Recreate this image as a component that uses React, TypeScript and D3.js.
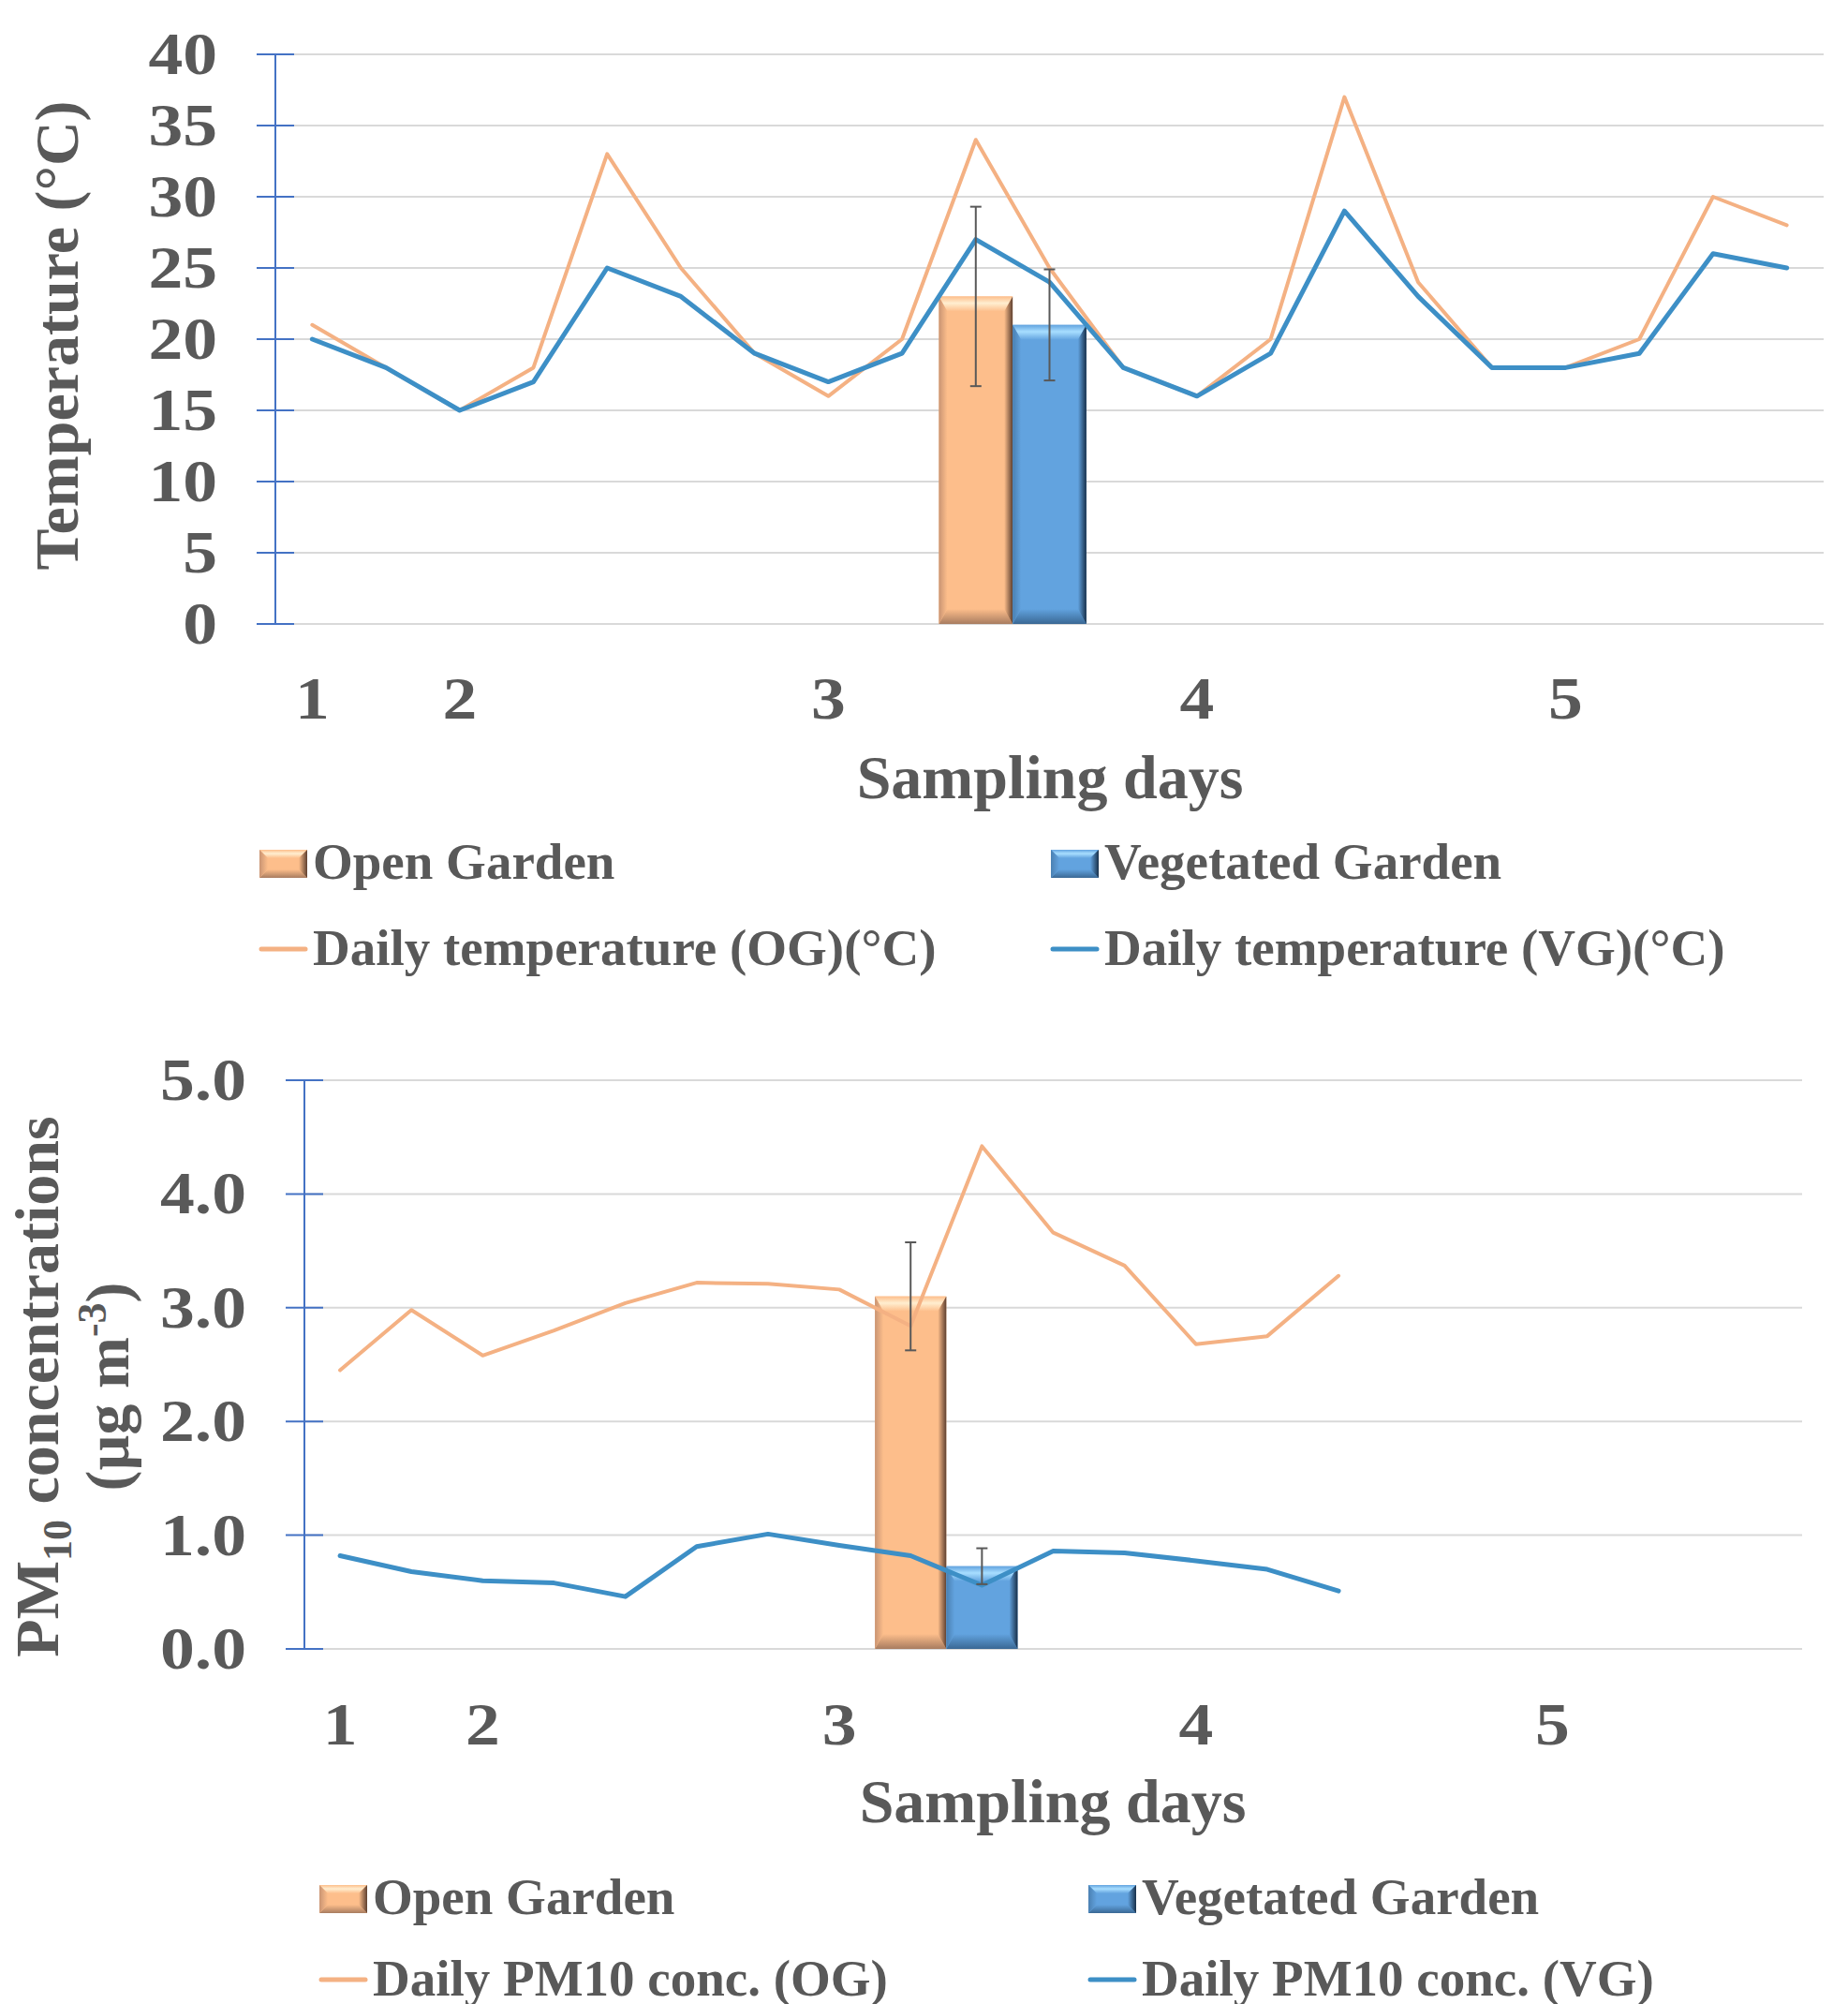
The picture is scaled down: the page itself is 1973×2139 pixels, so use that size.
import React from "react";
import * as d3 from "d3";

// 21 sampling slots on the category axis, labels only at day starts
const slotCount = 21;
const dayLabels = ["1", "2", "3", "4", "5"];
const dayLabelSlots = [0, 2, 7, 12, 17];

const tempTicks = [0, 5, 10, 15, 20, 25, 30, 35, 40];
const tempOG = [21, 18, 15, 18, 33, 25, 19, 16, 20, 34, 25, 18, 16, 20, 37, 24, 18, 18, 20, 30, 28];
const tempVG = [20, 18, 15, 17, 25, 23, 19, 17, 19, 27, 24, 18, 16, 19, 29, 23, 18, 18, 19, 26, 25];
const tempBarSlots = [9, 10];
const tempBarMeans = [23, 21];
const tempBarErr = [6.3, 3.9];

const pmTicks = [0, 1, 2, 3, 4, 5];
const pmOG = [2.45, 2.98, 2.58, 2.8, 3.04, 3.22, 3.21, 3.16, 2.84, 4.42, 3.66, 3.37, 2.68, 2.75, 3.28];
const pmVG = [0.82, 0.68, 0.6, 0.58, 0.46, 0.9, 1.01, 0.91, 0.82, 0.56, 0.86, 0.845, 0.775, 0.7, 0.51];
const pmBarSlots = [8, 9];
const pmBarMeans = [3.1, 0.727];
const pmBarErr = [0.475, 0.158];

const FONT = "'Liberation Serif', 'Times New Roman', serif";
const TXT = "#595959";
const AXIS = "#4472C4";
const GRID = "#D9D9D9";
const LINE_OG = "#F4B183";
const LINE_VG = "#3D8FC6";
const TICK_STRETCH = 1.15;

const palettes = {
  og: { main: "#FDBE8B", hi: "#FFEED0", left: "#C99473", right: "#5E4030", bottom: "#A87C60" },
  vg: { main: "#62A3DF", hi: "#A8DEFF", left: "#4A80B2", right: "#18304A", bottom: "#3A6894" },
};

function Gradients() {
  return (
    <defs>
      {Object.entries(palettes).map(([k, p]) => (
        <React.Fragment key={k}>
          <linearGradient id={`${k}-top`} x1="0" y1="0" x2="0" y2="1">
            <stop offset="0" stopColor={p.main} />
            <stop offset="0.45" stopColor={p.hi} />
            <stop offset="1" stopColor={p.main} />
          </linearGradient>
          <linearGradient id={`${k}-left`} x1="0" y1="0" x2="1" y2="0">
            <stop offset="0" stopColor={p.left} />
            <stop offset="1" stopColor={p.main} />
          </linearGradient>
          <linearGradient id={`${k}-right`} x1="0" y1="0" x2="1" y2="0">
            <stop offset="0" stopColor={p.main} />
            <stop offset="1" stopColor={p.right} />
          </linearGradient>
          <linearGradient id={`${k}-bottom`} x1="0" y1="0" x2="0" y2="1">
            <stop offset="0" stopColor={p.main} />
            <stop offset="1" stopColor={p.bottom} />
          </linearGradient>
        </React.Fragment>
      ))}
    </defs>
  );
}

function BevelBar({ x0, x1, y0, y1, kind, bt, bs }) {
  const pts = (arr) => arr.map((p) => p.join(",")).join(" ");
  const h = y1 - y0;
  const t = Math.min(bt, h / 2);
  return (
    <g>
      <rect x={x0} y={y0} width={x1 - x0} height={h} fill={palettes[kind].main} />
      <polygon points={pts([[x0, y0], [x1, y0], [x1 - bs, y0 + t], [x0 + bs, y0 + t]])} fill={`url(#${kind}-top)`} />
      <polygon points={pts([[x0, y1], [x1, y1], [x1 - bs, y1 - t], [x0 + bs, y1 - t]])} fill={`url(#${kind}-bottom)`} />
      <polygon points={pts([[x0, y0], [x0 + bs, y0 + t], [x0 + bs, y1 - t], [x0, y1]])} fill={`url(#${kind}-left)`} />
      <polygon points={pts([[x1, y0], [x1 - bs, y0 + t], [x1 - bs, y1 - t], [x1, y1]])} fill={`url(#${kind}-right)`} />
    </g>
  );
}

// tick label, slightly widened to match the chart's wide bold digits
function TickText({ x, y, anchor, children }) {
  return (
    <text
      transform={`translate(${x},${y}) scale(${TICK_STRETCH},1)`}
      textAnchor={anchor}
      fontFamily={FONT}
      fontWeight="bold"
      fontSize={64}
      fill={TXT}
    >
      {children}
    </text>
  );
}

function Panel({ cfg }) {
  const x = d3.scaleLinear().domain([-0.5, slotCount - 0.5]).range([cfg.left, cfg.right]);
  const y = d3.scaleLinear().domain([0, cfg.yMax]).range([cfg.bottom, cfg.top]);
  const step = x(1) - x(0);
  const line = d3
    .line()
    .x((d, i) => x(i))
    .y((d) => y(d));
  const kinds = ["og", "vg"];
  const fmt = cfg.fmt;

  return (
    <g>
      {cfg.ticks.map((t) => (
        <line key={"g" + t} x1={cfg.left} x2={cfg.right} y1={y(t)} y2={y(t)} stroke={GRID} strokeWidth={2} />
      ))}
      {cfg.ticks.map((t) => (
        <TickText key={"yt" + t} x={cfg.labelRight} y={y(t) + 21} anchor="end">
          {fmt(t)}
        </TickText>
      ))}
      {/* axis with cross ticks */}
      <line x1={cfg.left} x2={cfg.left} y1={y(cfg.yMax)} y2={y(0)} stroke={AXIS} strokeWidth={2} />
      {cfg.ticks.map((t) => (
        <line key={"tk" + t} x1={cfg.left - 20} x2={cfg.left + 20} y1={y(t)} y2={y(t)} stroke={AXIS} strokeWidth={2} />
      ))}
      {/* bars */}
      {cfg.barSlots.map((s, i) => (
        <BevelBar
          key={"b" + i}
          kind={kinds[i]}
          x0={x(s) - step / 2}
          x1={x(s) + step / 2}
          y0={y(cfg.barMeans[i])}
          y1={y(0)}
          bt={16}
          bs={9}
        />
      ))}
      {/* lines */}
      <path d={line(cfg.og)} fill="none" stroke={LINE_OG} strokeWidth={4} strokeLinejoin="round" strokeLinecap="round" />
      <path d={line(cfg.vg)} fill="none" stroke={LINE_VG} strokeWidth={5} strokeLinejoin="round" strokeLinecap="round" />
      {/* error bars */}
      {cfg.barSlots.map((s, i) => {
        const cx = x(s);
        const lo = y(cfg.barMeans[i] - cfg.barErr[i]);
        const hi = y(cfg.barMeans[i] + cfg.barErr[i]);
        return (
          <g key={"e" + i} stroke="#595959" strokeWidth={2}>
            <line x1={cx} x2={cx} y1={lo} y2={hi} />
            <line x1={cx - 6} x2={cx + 6} y1={lo} y2={lo} />
            <line x1={cx - 6} x2={cx + 6} y1={hi} y2={hi} />
          </g>
        );
      })}
      {/* x labels */}
      {dayLabels.map((l, i) => (
        <TickText key={"xl" + l} x={x(dayLabelSlots[i])} y={cfg.xLabelY} anchor="middle">
          {l}
        </TickText>
      ))}
      <text x={cfg.xTitleX} y={cfg.xTitleY} textAnchor="middle" fontFamily={FONT} fontWeight="bold" fontSize={66} fill={TXT}>
        Sampling days
      </text>
      {cfg.yTitle}
      {/* legend */}
      {cfg.legend.map((it, i) => {
        const lx = it.x;
        const ly = it.y;
        return (
          <g key={"lg" + i}>
            {it.type === "bar" ? (
              <BevelBar kind={it.kind} x0={lx} x1={lx + 51} y0={ly - 31} y1={ly - 1} bt={9} bs={9} />
            ) : (
              <line x1={lx + 2} x2={lx + 49} y1={ly - 17} y2={ly - 17} stroke={it.kind === "og" ? LINE_OG : LINE_VG} strokeWidth={5} strokeLinecap="round" />
            )}
            <text x={lx + 57} y={ly} fontFamily={FONT} fontWeight="bold" fontSize={55} fill={TXT}>
              {it.label}
            </text>
          </g>
        );
      })}
    </g>
  );
}

const tempCfg = {
  left: 294,
  right: 1947,
  top: 58,
  bottom: 666,
  yMax: 40,
  ticks: tempTicks,
  fmt: (t) => String(t),
  labelRight: 232,
  og: tempOG,
  vg: tempVG,
  barSlots: tempBarSlots,
  barMeans: tempBarMeans,
  barErr: tempBarErr,
  xLabelY: 767,
  xTitleX: 1121,
  xTitleY: 852,
  yTitle: (
    <text transform="translate(83,358) rotate(-90)" textAnchor="middle" fontFamily={FONT} fontWeight="bold" fontSize={66} fill={TXT}>
      Temperature (°C)
    </text>
  ),
  legend: [
    { type: "bar", kind: "og", label: "Open Garden", x: 277, y: 938 },
    { type: "bar", kind: "vg", label: "Vegetated Garden", x: 1122, y: 938 },
    { type: "line", kind: "og", label: "Daily temperature (OG)(°C)", x: 277, y: 1030 },
    { type: "line", kind: "vg", label: "Daily temperature (VG)(°C)", x: 1122, y: 1030 },
  ],
};

const pmCfg = {
  left: 325,
  right: 1924,
  top: 1153,
  bottom: 1760,
  yMax: 5,
  ticks: pmTicks,
  fmt: d3.format(".1f"),
  labelRight: 263,
  og: pmOG,
  vg: pmVG,
  barSlots: pmBarSlots,
  barMeans: pmBarMeans,
  barErr: pmBarErr,
  xLabelY: 1862,
  xTitleX: 1124,
  xTitleY: 1945,
  yTitle: (
    <g fontFamily={FONT} fontWeight="bold" fill={TXT}>
      <text transform="translate(62,1480) rotate(-90)" textAnchor="middle" fontSize={66}>
        PM
        <tspan fontSize={44} dy={14}>10</tspan>
        <tspan dy={-14}> concentrations</tspan>
      </text>
      <text transform="translate(137,1480) rotate(-90)" textAnchor="middle" fontSize={66}>
        (µg m
        <tspan fontSize={44} dy={-24}>-3</tspan>
        <tspan dy={24}>)</tspan>
      </text>
    </g>
  ),
  legend: [
    { type: "bar", kind: "og", label: "Open Garden", x: 341, y: 2043 },
    { type: "bar", kind: "vg", label: "Vegetated Garden", x: 1162, y: 2043 },
    { type: "line", kind: "og", label: "Daily PM10 conc. (OG)", x: 341, y: 2130 },
    { type: "line", kind: "vg", label: "Daily PM10 conc. (VG)", x: 1162, y: 2130 },
  ],
};

export default function App() {
  return (
    <svg
      width={1973}
      height={2139}
      style={{ position: "absolute", left: 0, top: 0, background: "#fff" }}
    >
      <Gradients />
      <rect width={1973} height={2139} fill="#fff" />
      <Panel cfg={tempCfg} />
      <Panel cfg={pmCfg} />
    </svg>
  );
}
